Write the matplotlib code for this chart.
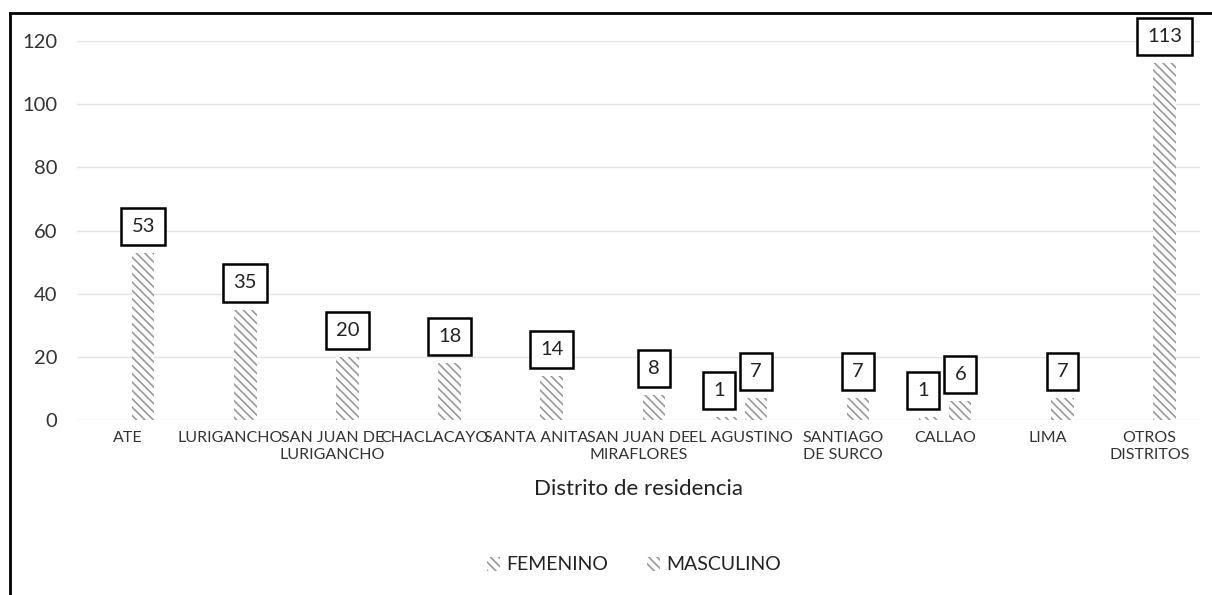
import numpy as np
import matplotlib.pyplot as plt
from matplotlib.lines import Line2D

plt.rcParams['font.family'] = ['Lato', 'DejaVu Sans']
plt.rcParams['hatch.linewidth'] = 1.2

categorias = ['ATE', 'LURIGANCHO', 'SAN JUAN DE\nLURIGANCHO', 'CHACLACAYO', 'SANTA ANITA',
              'SAN JUAN DE\nMIRAFLORES', 'EL AGUSTINO', 'SANTIAGO\nDE SURCO', 'CALLAO',
              'LIMA', 'OTROS\nDISTRITOS']
femenino = [0, 0, 0, 0, 0, 0, 1, 0, 1, 0, 0]
masculino = [53, 35, 20, 18, 14, 8, 7, 7, 6, 7, 113]

fig = plt.figure(figsize=(12.12, 5.95), dpi=100)
ax = fig.add_axes([0.0635, 0.294, 0.927, 0.637])

x = np.arange(len(categorias))
w = 0.22
off = 0.148
hatch_col = '#9a9a9a'

b_fem = ax.bar(x - off, femenino, w, color='white', edgecolor=hatch_col, linewidth=0,
               hatch='\\\\\\\\', label='FEMENINO')
b_mas = ax.bar(x + off, masculino, w, color='white', edgecolor=hatch_col, linewidth=0,
               hatch='\\\\\\\\', label='MASCULINO')

# value boxes above each non-zero bar (femenino nudged left so boxes don't collide)
for bars, vals, dx in [(b_fem, femenino, -5), (b_mas, masculino, 0)]:
    for rect, v in zip(bars, vals):
        if v == 0:
            continue
        ax.annotate(str(v), (rect.get_x() + rect.get_width() / 2, v),
                    xytext=(dx, 13), textcoords='offset points', ha='center', va='bottom',
                    fontsize=14.5, color='#222222', clip_on=False,
                    bbox=dict(boxstyle='square,pad=0.5', fc='white', ec='black', lw=1.8))

ax.set_xlim(-0.5, len(categorias) - 0.5)
ax.set_ylim(0, 120)
ax.set_yticks(range(0, 121, 20))
ax.set_xticks(x)
ax.set_xticklabels(categorias, fontsize=11.5, color='#333333', linespacing=1.25)
ax.tick_params(axis='y', labelsize=14.5, length=0, pad=14, labelcolor='#333333')
ax.tick_params(axis='x', length=0, pad=8)
ax.grid(axis='y', color='#e4e4e4', linewidth=1)
ax.set_axisbelow(True)
for s in ax.spines.values():
    s.set_visible(False)

ax.set_xlabel('Distrito de residencia', fontsize=16, color='#222222', labelpad=12)

ax.legend(loc='center', bbox_to_anchor=(0.523, 1 - 565 / 595), bbox_transform=fig.transFigure,
          ncol=2, frameon=False, fontsize=14, handlelength=0.7, handleheight=0.7,
          handletextpad=0.3, columnspacing=2.0, labelcolor='#222222')

# outer frame (left and top edges)
fig.add_artist(Line2D([10 / 1212, 10 / 1212], [0, 1 - 13 / 595], color='black', lw=2,
                      transform=fig.transFigure))
fig.add_artist(Line2D([10 / 1212, 1], [1 - 13 / 595, 1 - 13 / 595], color='black', lw=2,
                      transform=fig.transFigure))

fig.savefig('out.png', dpi=100)
